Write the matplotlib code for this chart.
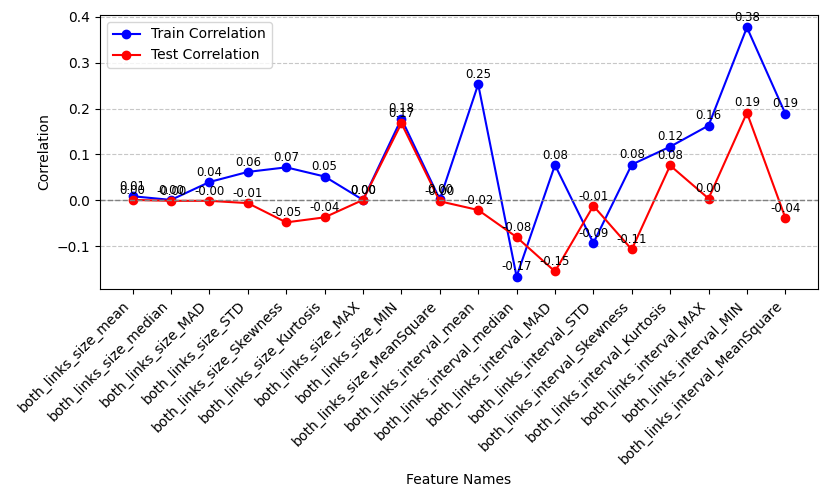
import matplotlib
matplotlib.use("Agg")
import matplotlib.pyplot as plt
import numpy as np

features = ["both_links_size_mean", "both_links_size_median", "both_links_size_MAD",
            "both_links_size_STD", "both_links_size_Skewness", "both_links_size_Kurtosis",
            "both_links_size_MAX", "both_links_size_MIN", "both_links_size_MeanSquare",
            "both_links_interval_mean", "both_links_interval_median", "both_links_interval_MAD",
            "both_links_interval_STD", "both_links_interval_Skewness", "both_links_interval_Kurtosis",
            "both_links_interval_MAX", "both_links_interval_MIN", "both_links_interval_MeanSquare"]
train_corr = [0.009, 0.001, 0.040, 0.062, 0.072, 0.052, 0.001, 0.178, 0.002,
              0.253, -0.166, 0.077, -0.093, 0.078, 0.117, 0.163, 0.377, 0.189]
test_corr = [0.001, -0.001, -0.001, -0.006, -0.048, -0.037, 0.001, 0.168, -0.002,
             -0.021, -0.080, -0.155, -0.012, -0.107, 0.076, 0.004, 0.191, -0.038]

fig = plt.figure(figsize=(8.3, 4.98), dpi=100)
ax = fig.add_axes([0.1205, 0.4197, 0.865, 0.5503])
x = np.arange(len(features))
ax.plot(x, train_corr, marker='o', color='blue', label='Train Correlation')
ax.plot(x, test_corr, marker='o', color='red', label='Test Correlation')
for i, v in enumerate(train_corr):
    ax.annotate(f"{v:.2f}", (x[i], v), textcoords="offset points", xytext=(0, 4.5),
                ha='center', fontsize=8.5)
for i, v in enumerate(test_corr):
    ax.annotate(f"{v:.2f}", (x[i], v), textcoords="offset points", xytext=(0, 4.5),
                ha='center', fontsize=8.5)
ax.axhline(0, color='gray', linestyle='--', linewidth=1)
ax.grid(axis='y', linestyle='--', alpha=0.7)
ax.set_xticks(x)
ax.set_xticklabels(features, rotation=45, ha='right')
ax.set_ylabel("Correlation")
ax.set_xlabel("Feature Names")
ax.legend(loc='upper left')
fig.savefig("out.png", dpi=100)
